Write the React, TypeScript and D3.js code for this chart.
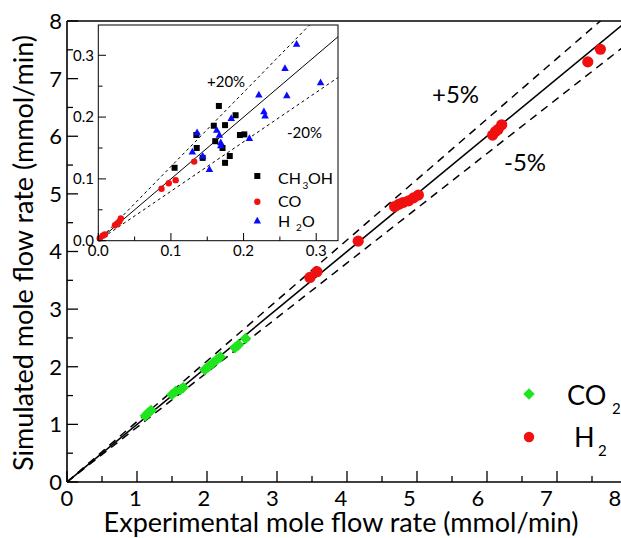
import React from "react";
import * as d3 from "d3";

// Main chart data (mmol/min)
const co2Exp = [1.12, 1.16, 1.20, 1.50, 1.55, 1.62, 1.66, 1.97, 2.02, 2.08, 2.14, 2.19, 2.40, 2.45, 2.55];
const co2Sim = [1.15, 1.20, 1.24, 1.52, 1.57, 1.60, 1.64, 1.95, 2.00, 2.06, 2.12, 2.17, 2.33, 2.38, 2.49];
const h2Exp = [3.47, 3.57, 4.16, 4.68, 4.74, 4.80, 4.88, 4.95, 5.02, 6.08, 6.12, 6.16, 6.21, 7.44, 7.62];
const h2Sim = [3.55, 3.65, 4.18, 4.78, 4.82, 4.85, 4.88, 4.93, 4.98, 6.02, 6.08, 6.12, 6.20, 7.29, 7.51];

// Inset data
const meohExp = [0.105, 0.135, 0.1355, 0.1437, 0.159, 0.161, 0.166, 0.171, 0.1745, 0.1745, 0.181, 0.189, 0.195, 0.201];
const meohSim = [0.118, 0.171, 0.150, 0.134, 0.186, 0.161, 0.218, 0.150, 0.187, 0.126, 0.137, 0.203, 0.171, 0.172];
const coExp = [0.002, 0.006, 0.009, 0.023, 0.026, 0.029, 0.031, 0.087, 0.097, 0.1065, 0.132];
const coSim = [0.004, 0.008, 0.010, 0.025, 0.028, 0.031, 0.036, 0.084, 0.093, 0.098, 0.128];
const h2oExp = [0.1295, 0.136, 0.1437, 0.153, 0.163, 0.1667, 0.1686, 0.1686, 0.183, 0.208, 0.221, 0.228, 0.2296, 0.257, 0.2595, 0.273, 0.306];
const h2oSim = [0.144, 0.175, 0.137, 0.1155, 0.179, 0.171, 0.159, 0.154, 0.198, 0.1656, 0.236, 0.209, 0.202, 0.279, 0.235, 0.318, 0.256];

const mainTicks = [0, 1, 2, 3, 4, 5, 6, 7, 8];
const insetTicks = [0, 0.1, 0.2, 0.3];
const mainBands = [1.05, 0.95];
const insetBands = [1.2, 0.8];

const FONT = "Lato, 'Open Sans', sans-serif";
const GREEN = "#1fe51f";
const RED = "#f01010";
const BLUE = "#0a0aff";

export default function App() {
  const W = 621, H = 538;
  const x = d3.scaleLinear().domain([0, 8]).range([67, 627]);
  // tick labels in the original sit on a slightly tighter spacing than the ticks
  const xLab = d3.scaleLinear().domain([0, 8]).range([67, 615]);
  const y = d3.scaleLinear().domain([0, 8]).range([482, 21]);
  const ix = d3.scaleLinear().domain([0, 0.33]).range([98.3, 338]);
  const iy = d3.scaleLinear().domain([0, 0.349]).range([240.7, 25]);

  const line = (sx: any, sy: any) => d3.line<[number, number]>().x(d => sx(d[0])).y(d => sy(d[1]));
  const mainLine = line(x, y);
  const insetLine = line(ix, iy);

  const minorMain = d3.range(0.5, 8, 1);
  const minorInset = d3.range(0.05, 0.35, 0.1);

  const diamond = d3.symbol().type(d3.symbolDiamond2).size(85)() as string;
  const sq = (cx: number, cy: number, s: number) => (
    <rect x={cx - s / 2} y={cy - s / 2} width={s} height={s} fill="#000" />
  );
  const tri = (cx: number, cy: number, s: number) => {
    const h = s * 0.9;
    return <path d={`M${cx},${cy - h * 0.6}L${cx + s / 2},${cy + h * 0.4}L${cx - s / 2},${cy + h * 0.4}Z`} fill={BLUE} />;
  };

  return (
    <svg width={W} height={H} style={{ position: "absolute", left: 0, top: 0, background: "#fff" }} fontFamily={FONT}>
      <defs>
        <clipPath id="mainClip"><rect x={67} y={21} width={560} height={461} /></clipPath>
        <clipPath id="insetClip"><rect x={98.3} y={25} width={239.7} height={215.7} /></clipPath>
      </defs>

      {/* main diagonal lines */}
      <g clipPath="url(#mainClip)" fill="none" stroke="#000">
        <path d={mainLine([[0, 0], [8.5, 8.5]]) as string} strokeWidth={1.6} />
        {mainBands.map(f => (
          <path key={f} d={mainLine([[0, 0], [8.5, 8.5 * f]]) as string} strokeWidth={1.5} strokeDasharray="8,6" />
        ))}
      </g>

      {/* main data */}
      {co2Exp.map((v, i) => (
        <path key={"c" + i} d={diamond} transform={`translate(${x(v)},${y(co2Sim[i])})`} fill={GREEN} />
      ))}
      {h2Exp.map((v, i) => (
        <circle key={"h" + i} cx={x(v)} cy={y(h2Sim[i])} r={5.6} fill={RED} />
      ))}

      {/* main frame */}
      <g stroke="#000" strokeWidth={1.6} fill="none">
        <line x1={67} x2={67} y1={21} y2={482} />
        <line x1={67} x2={627} y1={482} y2={482} />
        <line x1={67} x2={627} y1={21} y2={21} />
        <line x1={627} x2={627} y1={21} y2={482} />
      </g>
      <g stroke="#000" strokeWidth={1.3}>
        {mainTicks.map(t => <line key={"xt" + t} x1={x(t)} x2={x(t)} y1={482} y2={471} />)}
        {minorMain.map(t => <line key={"xm" + t} x1={x(t)} x2={x(t)} y1={482} y2={476} />)}
        {mainTicks.map(t => <line key={"yt" + t} x1={67} x2={78} y1={y(t)} y2={y(t)} />)}
        {minorMain.map(t => <line key={"ym" + t} x1={67} x2={73} y1={y(t)} y2={y(t)} />)}
      </g>
      <g fontSize={22} fill="#000">
        {mainTicks.map(t => (
          <text key={"xl" + t} x={xLab(t)} y={506} textAnchor="middle">{t}</text>
        ))}
        {mainTicks.map(t => (
          <text key={"yl" + t} x={62} y={y(t)} dy="0.36em" textAnchor="end">{t}</text>
        ))}
      </g>
      <text x={341} y={532} textAnchor="middle" fontSize={27}>Experimental mole flow rate (mmol/min)</text>
      <text transform="translate(33,253) rotate(-90)" textAnchor="middle" fontSize={27}>Simulated mole flow rate (mmol/min)</text>

      <text x={432} y={103} fontSize={24}>+5%</text>
      <text x={504} y={171} fontSize={24}>-5%</text>

      {/* main legend */}
      <path d={diamond} transform={`translate(529,394)`} fill={GREEN} />
      <text x={567} y={405} fontSize={27}>CO</text>
      <text x={612} y={414} fontSize={15}>2</text>
      <circle cx={529} cy={437} r={5.2} fill={RED} />
      <text x={574} y={447} fontSize={27}>H</text>
      <text x={598} y={456} fontSize={15}>2</text>

      {/* inset */}
      <rect x={98.3} y={25} width={239.7} height={215.7} fill="#fff" />
      <g clipPath="url(#insetClip)" fill="none" stroke="#000">
        <path d={insetLine([[0, 0], [0.4, 0.4]]) as string} strokeWidth={1} />
        {insetBands.map(f => (
          <path key={f} d={insetLine([[0, 0], [0.4, 0.4 * f]]) as string} strokeWidth={1} strokeDasharray="3,3" />
        ))}
      </g>
      {meohExp.map((v, i) => <g key={"m" + i}>{sq(ix(v), iy(meohSim[i]), 6)}</g>)}
      {coExp.map((v, i) => <circle key={"o" + i} cx={ix(v)} cy={iy(coSim[i])} r={3.2} fill={RED} />)}
      {h2oExp.map((v, i) => <g key={"w" + i}>{tri(ix(v), iy(h2oSim[i]), 7.5)}</g>)}
      <rect x={98.3} y={25} width={239.7} height={215.7} fill="none" stroke="#000" strokeWidth={1} />
      <g stroke="#000" strokeWidth={1}>
        {insetTicks.map(t => <line key={"ixt" + t} x1={ix(t)} x2={ix(t)} y1={240.7} y2={233} />)}
        {minorInset.map(t => <line key={"ixm" + t} x1={ix(t)} x2={ix(t)} y1={240.7} y2={236.5} />)}
        {insetTicks.map(t => <line key={"iyt" + t} x1={98.3} x2={106} y1={iy(t)} y2={iy(t)} />)}
        {minorInset.map(t => <line key={"iym" + t} x1={98.3} x2={102.5} y1={iy(t)} y2={iy(t)} />)}
      </g>
      <g fontSize={15} fill="#000">
        {insetTicks.map(t => (
          <text key={"ixl" + t} x={ix(t)} y={256} textAnchor="middle">{t.toFixed(1)}</text>
        ))}
        {insetTicks.map(t => (
          <text key={"iyl" + t} x={94} y={iy(t)} dy="0.36em" textAnchor="end">{t.toFixed(1)}</text>
        ))}
      </g>
      <text x={207} y={87} fontSize={15}>+20%</text>
      <text x={287} y={138} fontSize={15}>-20%</text>

      {/* inset legend */}
      {sq(257.3, 176, 6)}
      <text x={278} y={184} fontSize={16}>CH</text>
      <text x={302.5} y={188.5} fontSize={10}>3</text>
      <text x={308} y={184} fontSize={16}>OH</text>
      <circle cx={257.3} cy={201.7} r={3.2} fill={RED} />
      <text x={278} y={207} fontSize={16}>CO</text>
      {tri(257.3, 220.7, 7.5)}
      <text x={278} y={227} fontSize={16}>H</text>
      <text x={296} y={231} fontSize={10}>2</text>
      <text x={302} y={227} fontSize={16}>O</text>
    </svg>
  );
}
